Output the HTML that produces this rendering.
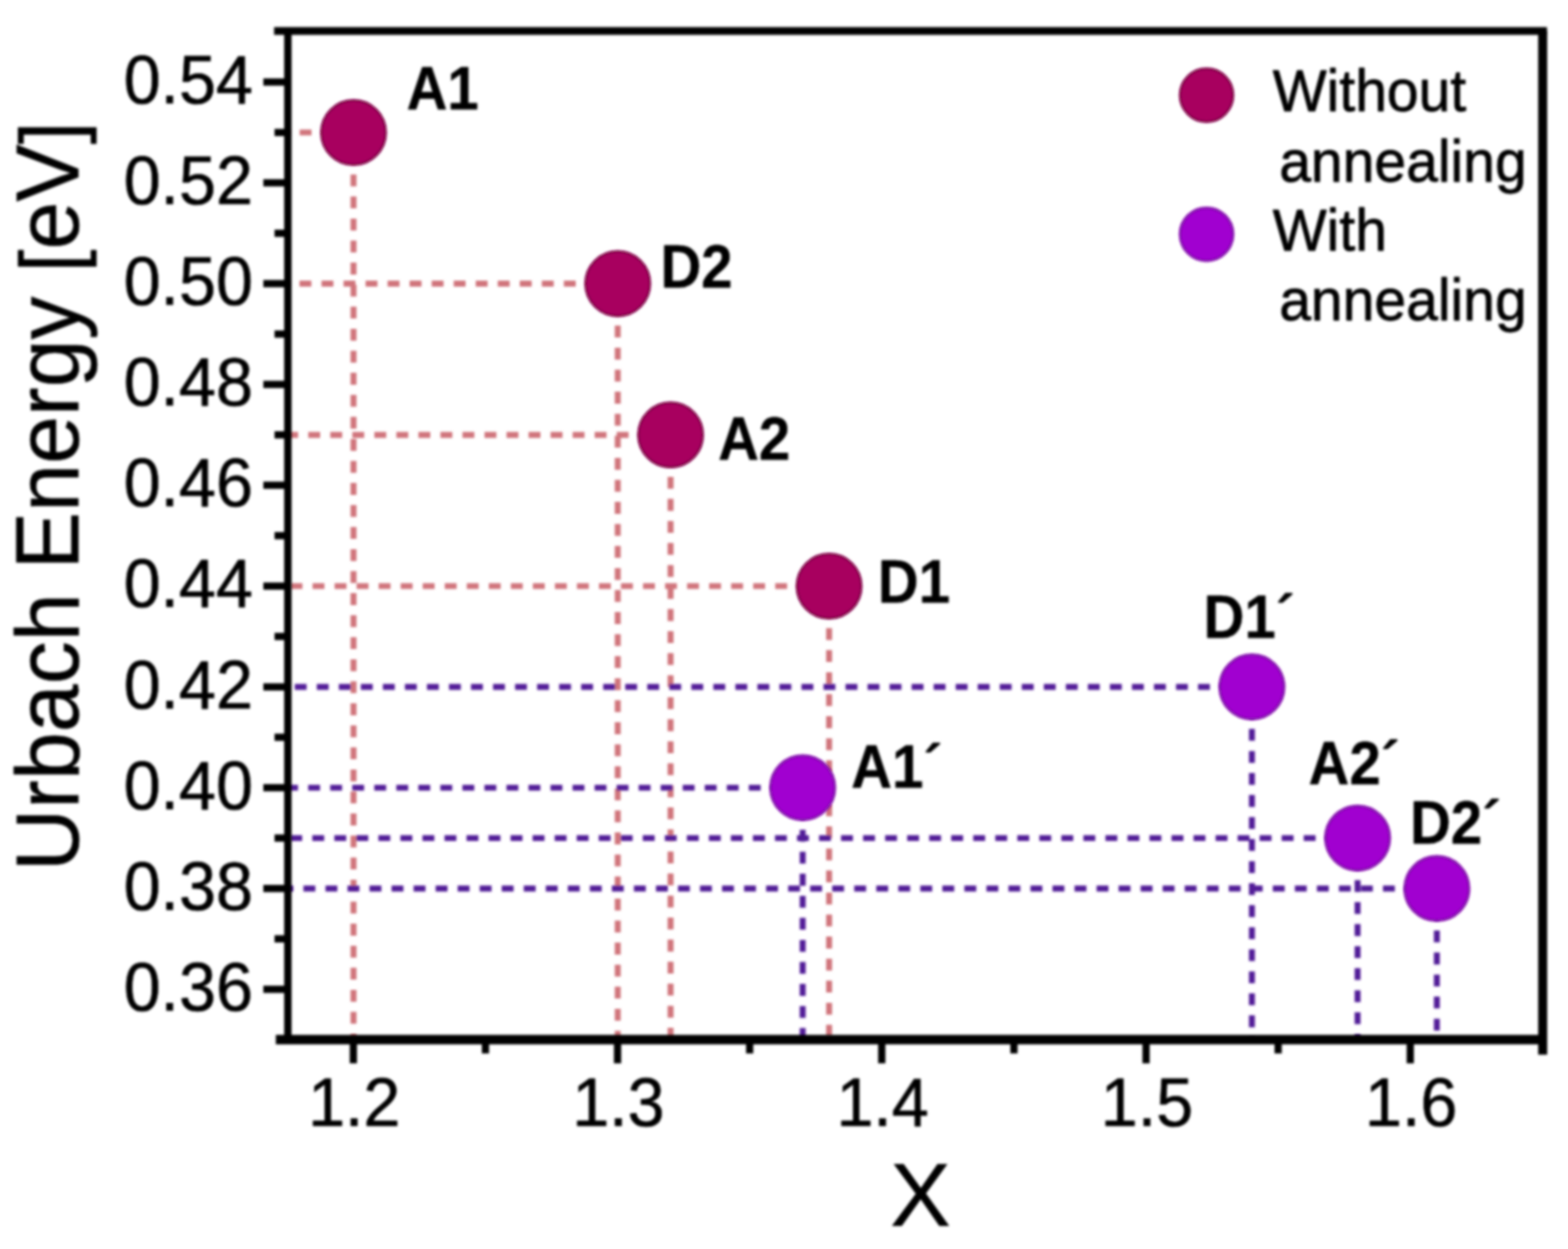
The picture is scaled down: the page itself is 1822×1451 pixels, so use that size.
<!DOCTYPE html>
<html lang="en">
<head>
<meta charset="utf-8">
<title>Urbach Energy vs X</title>
<style>
html,body{margin:0;padding:0;background:#fff;}
body{width:1822px;height:1451px;overflow:hidden;}
svg{display:block;}
</style>
</head>
<body>
<svg width="1822" height="1451" viewBox="0 0 1822 1451" role="img" aria-label="Urbach Energy versus X scatter plot">
<defs><filter id="b" x="-2%" y="-2%" width="104%" height="104%" filterUnits="userSpaceOnUse" primitiveUnits="userSpaceOnUse"><feGaussianBlur stdDeviation="1.5"/></filter><filter id="b2" x="-2%" y="-2%" width="104%" height="104%" filterUnits="userSpaceOnUse" primitiveUnits="userSpaceOnUse"><feGaussianBlur stdDeviation="1.85"/></filter></defs>
<rect width="1822" height="1451" fill="#fff"/>
<g filter="url(#b2)">
<g fill="none" stroke="#d0757c" stroke-width="6.9" stroke-dasharray="13.8 11.8" stroke-dashoffset="2.4">
<path d="M410.8 153.9H334.5"/>
<path d="M410.8 153.9V1207.8"/>
<path d="M717.8 329.5H334.5"/>
<path d="M717.8 329.5V1207.8"/>
<path d="M779.2 505.2H334.5"/>
<path d="M779.2 505.2V1207.8"/>
<path d="M963.4 680.9H334.5"/>
<path d="M963.4 680.9V1207.8"/>
</g>
<g fill="none" stroke="#521f98" stroke-width="6.9" stroke-dasharray="13.8 11.8" stroke-dashoffset="2.4">
<path d="M932.7 915.1H334.5"/>
<path d="M932.7 915.1V1207.8"/>
<path d="M1454.7 798.0H334.5"/>
<path d="M1454.7 798.0V1207.8"/>
<path d="M1577.5 973.6H334.5"/>
<path d="M1577.5 973.6V1207.8"/>
<path d="M1669.6 1032.2H334.5"/>
<path d="M1669.6 1032.2V1207.8"/>
</g>
</g>
<g filter="url(#b)">
<g fill="none" stroke="#000">
<path d="M334.5 1207.8V36.0" stroke-width="8.6"/>
<path d="M318.5 36.0H1797.6" stroke-width="9"/>
<path d="M1792.6 36.0V1225.3" stroke-width="10.5"/>
<path d="M320.5 1207.8H1792.6" stroke-width="11"/>
</g>
<g stroke="#000" stroke-width="8.4" stroke-linecap="butt">
<path d="M306.0 1149.3H334.5"/>
<path d="M319.0 1090.7H334.5"/>
<path d="M306.0 1032.2H334.5"/>
<path d="M319.0 973.6H334.5"/>
<path d="M306.0 915.1H334.5"/>
<path d="M319.0 856.5H334.5"/>
<path d="M306.0 798.0H334.5"/>
<path d="M319.0 739.4H334.5"/>
<path d="M306.0 680.9H334.5"/>
<path d="M319.0 622.3H334.5"/>
<path d="M306.0 563.7H334.5"/>
<path d="M319.0 505.2H334.5"/>
<path d="M306.0 446.6H334.5"/>
<path d="M319.0 388.1H334.5"/>
<path d="M306.0 329.5H334.5"/>
<path d="M319.0 271.0H334.5"/>
<path d="M306.0 212.4H334.5"/>
<path d="M319.0 153.9H334.5"/>
<path d="M306.0 95.3H334.5"/>
<path d="M410.6 1207.8V1235.3"/>
<path d="M564.1 1207.8V1223.8"/>
<path d="M717.6 1207.8V1235.3"/>
<path d="M871.1 1207.8V1223.8"/>
<path d="M1024.6 1207.8V1235.3"/>
<path d="M1178.2 1207.8V1223.8"/>
<path d="M1331.7 1207.8V1235.3"/>
<path d="M1485.2 1207.8V1223.8"/>
<path d="M1638.7 1207.8V1235.3"/>
</g>
<g fill="#a8035f" stroke="#86074d" stroke-width="3">
<circle cx="410.8" cy="153.9" r="37.4"/>
<circle cx="717.8" cy="329.5" r="37.4"/>
<circle cx="779.2" cy="505.2" r="37.4"/>
<circle cx="963.4" cy="680.9" r="37.4"/>
<circle cx="1402" cy="110.6" r="30.8"/>
</g>
<g fill="#a106d0" stroke="#8410ad" stroke-width="3">
<circle cx="932.7" cy="915.1" r="37.4"/>
<circle cx="1454.7" cy="798.0" r="37.4"/>
<circle cx="1577.5" cy="973.6" r="37.4"/>
<circle cx="1669.6" cy="1032.2" r="37.4"/>
<circle cx="1402" cy="272.2" r="30.8"/>
</g>
<g font-family="'Liberation Sans', sans-serif" fill="#000" stroke="#000" stroke-width="0" stroke-linejoin="round">
<g font-size="69" stroke-width="0.9">
<text transform="translate(1479.0 129.2) scale(0.961 1)">Without</text>
<text transform="translate(1486.5 210.9) scale(0.961 1)">annealing</text>
<text transform="translate(1479.0 290.8) scale(0.961 1)">With</text>
<text transform="translate(1486.5 372.0) scale(0.961 1)">annealing</text>
</g>
<g font-size="80.4" text-anchor="end" stroke-width="0.7">
<text transform="translate(294.0 1173.8) scale(0.961 1)">0.36</text>
<text transform="translate(294.0 1056.7) scale(0.961 1)">0.38</text>
<text transform="translate(294.0 939.6) scale(0.961 1)">0.40</text>
<text transform="translate(294.0 822.5) scale(0.961 1)">0.42</text>
<text transform="translate(294.0 705.4) scale(0.961 1)">0.44</text>
<text transform="translate(294.0 588.2) scale(0.961 1)">0.46</text>
<text transform="translate(294.0 471.1) scale(0.961 1)">0.48</text>
<text transform="translate(294.0 354.0) scale(0.961 1)">0.50</text>
<text transform="translate(294.0 236.9) scale(0.961 1)">0.52</text>
<text transform="translate(294.0 119.8) scale(0.961 1)">0.54</text>
</g>
<g font-size="80.4" text-anchor="middle" stroke-width="0.7">
<text transform="translate(411.6 1308.0) scale(0.961 1)">1.2</text>
<text transform="translate(718.6 1308.0) scale(0.961 1)">1.3</text>
<text transform="translate(1025.6 1308.0) scale(0.961 1)">1.4</text>
<text transform="translate(1332.7 1308.0) scale(0.961 1)">1.5</text>
<text transform="translate(1639.7 1308.0) scale(0.961 1)">1.6</text>
</g>
<text transform="translate(1069.5 1423.5) scale(1.012 1)" text-anchor="middle" font-size="104" stroke-width="0.5">X</text>
<text transform="translate(91 576.5) rotate(-90) scale(0.972 1)" font-size="103" text-anchor="middle" stroke-width="0.5">Urbach Energy <tspan font-size="98" dy="1">[</tspan><tspan dy="-1">eV</tspan><tspan font-size="98" dy="1">]</tspan></text>
<g font-size="69.5" font-weight="bold" stroke-width="0.3">
<text transform="translate(472.4 127.4) scale(0.945 1)">A1</text>
<text transform="translate(767.4 333.5) scale(0.945 1)">D2</text>
<text transform="translate(834.4 534.2) scale(0.945 1)">A2</text>
<text transform="translate(1020.0 700.2) scale(0.945 1)">D1</text>
<text transform="translate(989.0 915.2) scale(0.945 1)">A1´</text>
<text transform="translate(1398.6 740.8) scale(0.945 1)">D1´</text>
<text transform="translate(1520.5 910.6) scale(0.945 1)">A2´</text>
<text transform="translate(1638.4 980.0) scale(0.945 1)">D2´</text>
</g>
</g>
</g>
</svg>
</body>
</html>
